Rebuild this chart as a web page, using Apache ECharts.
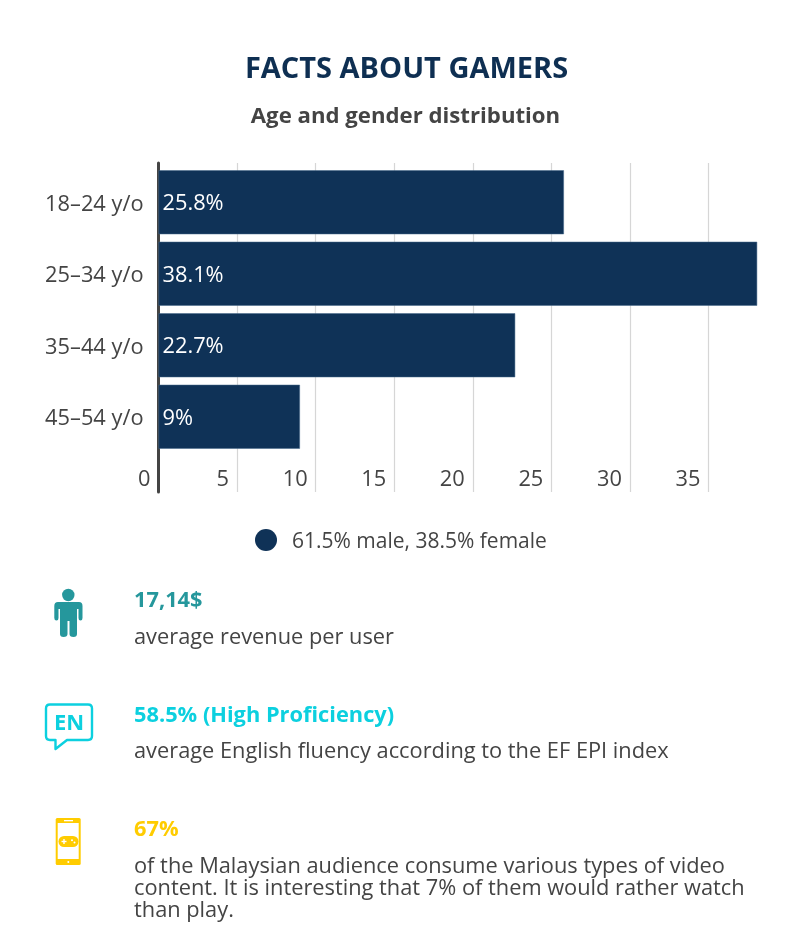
<!DOCTYPE html>
<html>
<head>
<meta charset="utf-8">
<title>Facts about gamers</title>
<script src="https://cdn.jsdelivr.net/npm/echarts@6/dist/echarts.min.js"></script>
<style>
  html, body { margin: 0; padding: 0; background: #fff; }
  #chart { width: 800px; height: 947px; }
</style>
</head>
<body>
<div id="chart"></div>
<script>
const ageGroups = ['18–24 y/o', '25–34 y/o', '35–44 y/o', '45–54 y/o'];
const shares = [25.8, 38.1, 22.7, 9];
const legendText = '61.5% male, 38.5% female';

const factHeads = ['17,14$', '58.5% (High Proficiency)', '67%'];
const factColors = ['#25979c', '#0cd0df', '#ffcc00'];
const factBodies = [
    ['average revenue per user'],
    ['average English fluency according to the EF EPI index'],
    ['of the Malaysian audience consume various types of video',
     'content. It is interesting that 7% of them would rather watch',
     'than play.']
];

const FONT = '"Open Sans", "Noto Sans", sans-serif';
const NAVY = '#0f3257';
const GREY = '#444444';
const TEXT_SIZE = 21.8;

function label(x, y, text, size, color, weight, align) {
    return {
        type: 'text', x: x, y: y, silent: true,
        style: {
            text: text, fontFamily: FONT, fontSize: size, fontWeight: weight || 'normal',
            fill: color, align: align || 'left', verticalAlign: 'middle'
        }
    };
}

// text block under the chart
const factY = [[600.5, 637.5], [715.5, 751.5], [829.5, 866.5]];
let factText = [];
factHeads.forEach((head, i) => {
    factText.push(label(134, factY[i][0], head, TEXT_SIZE, factColors[i], 'bold'));
    factBodies[i].forEach((line, j) => {
        factText.push(label(134, factY[i][1] + j * 22, line, TEXT_SIZE, GREY));
    });
});

// hand drawn icons
echarts.graphic.registerShape('personBody', echarts.graphic.extendPath(
    'M58 602 H79 Q82.5 602 82.5 606 V618 Q82.5 620.5 80.5 620.5 Q78.5 620.5 78.5 618 V609 H77 V634 Q77 637 73.5 637 Q69.5 637 69.5 634 V621 H67.5 V634 Q67.5 637 63.5 637 Q60 637 60 634 V609 H58.5 V618 Q58.5 620.5 56.5 620.5 Q54.3 620.5 54.3 618 V606 Q54.3 602 58 602 Z', {}));
echarts.graphic.registerShape('speechBubble', echarts.graphic.extendPath(
    'M50 704.5 H88 Q92 704.5 92 708.5 V736 Q92 740 88 740 H67 L55.5 749 V740 H50 Q46 740 46 736 V708.5 Q46 704.5 50 704.5 Z', {}));

const icons = [
    { type: 'circle', shape: { cx: 68.3, cy: 595, r: 6.2 }, style: { fill: factColors[0] } },
    { type: 'personBody', style: { fill: factColors[0] } },
    { type: 'speechBubble', style: { fill: 'none', stroke: factColors[1], lineWidth: 2.4, lineJoin: 'round' } },
    label(69, 724, 'EN', 22, factColors[1], 'bold', 'center'),
    { type: 'rect', shape: { x: 55.7, y: 818, width: 25, height: 47, r: 1.5 }, style: { fill: factColors[2] } },
    { type: 'rect', shape: { x: 57.7, y: 823, width: 21, height: 36 }, style: { fill: '#fff' } },
    { type: 'rect', shape: { x: 64, y: 820, width: 9, height: 1.3 }, style: { fill: '#fff' } },
    { type: 'circle', shape: { cx: 68.3, cy: 862, r: 1 }, style: { fill: '#fff' } },
    { type: 'rect', shape: { x: 58.5, y: 836, width: 20, height: 11, r: 5.5 }, style: { fill: factColors[2] } },
    { type: 'rect', shape: { x: 61.5, y: 840.8, width: 5, height: 1.4 }, style: { fill: '#fff' } },
    { type: 'rect', shape: { x: 63.3, y: 839, width: 1.4, height: 5 }, style: { fill: '#fff' } },
    { type: 'circle', shape: { cx: 72, cy: 840.3, r: 1 }, style: { fill: '#fff' } },
    { type: 'circle', shape: { cx: 74.5, cy: 842.6, r: 1 }, style: { fill: '#fff' } }
];

const chart = echarts.init(document.getElementById('chart'), null, { renderer: 'canvas' });
chart.setOption({
    animation: false,
    backgroundColor: '#fff',
    textStyle: { fontFamily: FONT },
    title: [
        {
            text: 'FACTS ABOUT GAMERS', left: 401.5, top: 50, textAlign: 'center',
            textStyle: { fontFamily: FONT, fontSize: 29, fontWeight: 'bold', color: '#0e2f52' }
        },
        {
            text: 'Age and gender distribution', left: 400.5, top: 101, textAlign: 'center',
            textStyle: { fontFamily: FONT, fontSize: 22.2, fontWeight: 'bold', color: GREY }
        }
    ],
    legend: {
        left: 250, top: 524,
        icon: 'circle', itemWidth: 22, itemHeight: 22, itemGap: 15,
        itemStyle: { borderWidth: 0 },
        formatter: '{t|{name}}',
        textStyle: {
            fontFamily: FONT, fontSize: 21, color: GREY, padding: [0, 0, 0, 10],
            rich: { t: { fontFamily: FONT, fontSize: 21, color: GREY, padding: [4, 0, 0, 0] } }
        },
        data: [legendText]
    },
    // grid 0 holds the frame (grid lines, tick labels), grid 1 the bars: the axis runs past the bars at both ends
    grid: [
        { left: 158.5, top: 163, width: 628.5, height: 329 },
        { left: 158.5, top: 166.5, width: 628.5, height: 286 }
    ],
    xAxis: [
        {
            gridIndex: 0, type: 'value', min: 0, max: 40, interval: 5,
            axisLine: { show: false },
            axisTick: { show: false },
            axisLabel: {
                inside: true, margin: 1, align: 'right', padding: [0, 8, 0, 0], showMaxLabel: false,
                fontFamily: FONT, fontSize: TEXT_SIZE, color: GREY
            },
            splitLine: { show: true, showMinLine: false, showMaxLine: false, lineStyle: { color: '#d6d6d6', width: 1.2 } }
        },
        { gridIndex: 1, type: 'value', min: 0, max: 40, show: false }
    ],
    yAxis: [
        {
            gridIndex: 0, type: 'category', data: [''],
            axisLine: { show: true, onZero: false, lineStyle: { color: '#444', width: 3 } },
            axisTick: { show: false },
            axisLabel: { show: false }
        },
        {
            gridIndex: 1, type: 'category', inverse: true, data: ageGroups,
            axisLine: { show: false },
            axisTick: { show: false },
            axisLabel: { margin: 15, verticalAlign: 'top', lineHeight: 5, fontFamily: FONT, fontSize: TEXT_SIZE, color: GREY }
        }
    ],
    series: [{
        name: legendText,
        type: 'bar',
        xAxisIndex: 1,
        yAxisIndex: 1,
        data: shares,
        barWidth: 64,
        itemStyle: { color: NAVY, borderColor: '#47688a', borderWidth: 0.5 },
        label: {
            show: true, position: 'insideLeft', distance: 4, offset: [0, 2], formatter: '{c}%',
            fontFamily: FONT, fontSize: TEXT_SIZE, color: '#fff'
        }
    }],
    graphic: factText.concat(icons)
});
</script>
</body>
</html>
